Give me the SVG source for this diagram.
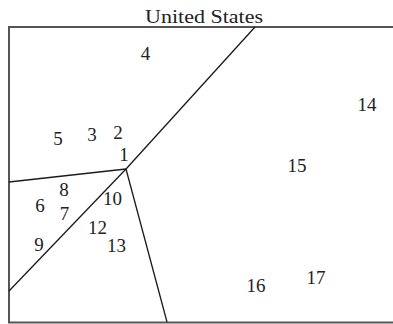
<svg xmlns="http://www.w3.org/2000/svg" width="393" height="324" viewBox="0 0 393 324">
<style>
.frame{fill:none;stroke:#555;stroke-width:2}
.div{fill:none;stroke:#1a1a1a;stroke-width:1.3}
text{font-family:"Liberation Serif","DejaVu Serif",serif;font-size:19px;fill:#222;text-anchor:middle}
</style>
<rect width="393" height="324" fill="#fff"/>
<text x="204" y="22.5" textLength="118" lengthAdjust="spacingAndGlyphs">United States</text>
<polyline class="frame" points="394,27 9,27 9,322.5 394,322.5"/>
<g id="connectors">
<line class="div" x1="255" y1="27" x2="126" y2="169"/>
<line class="div" x1="126" y1="169" x2="9" y2="182"/>
<line class="div" x1="126" y1="169" x2="9" y2="291"/>
<line class="div" x1="126" y1="169" x2="167" y2="322"/>
</g>
<g id="n1"><text x="124" y="161">1</text></g>
<g id="n2"><text x="118" y="138.5">2</text></g>
<g id="n3"><text x="92" y="141">3</text></g>
<g id="n4"><text x="145.5" y="60">4</text></g>
<g id="n5"><text x="58" y="144.5">5</text></g>
<g id="n6"><text x="40" y="211.5">6</text></g>
<g id="n7"><text x="64.5" y="219.5">7</text></g>
<g id="n8"><text x="64" y="196">8</text></g>
<g id="n9"><text x="39" y="251">9</text></g>
<g id="n10"><text x="112.5" y="205">10</text></g>
<g id="n12"><text x="97.5" y="234">12</text></g>
<g id="n13"><text x="116.5" y="251.5">13</text></g>
<g id="n14"><text x="367" y="110.5">14</text></g>
<g id="n15"><text x="297" y="171.5">15</text></g>
<g id="n16"><text x="256" y="291.5">16</text></g>
<g id="n17"><text x="316" y="284">17</text></g>
</svg>
